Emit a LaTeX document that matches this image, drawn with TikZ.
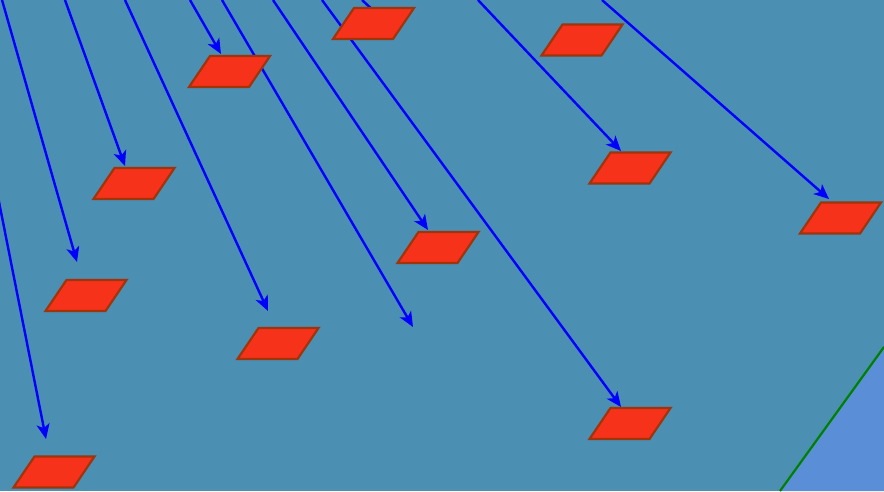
\documentclass[tikz,border=0pt]{standalone}
\usetikzlibrary{arrows.meta}
\definecolor{bgblue}{HTML}{4B8FB3}
\definecolor{lightblue}{HTML}{5A8ED6}
\definecolor{edgegreen}{HTML}{008000}
\definecolor{arrblue}{HTML}{0000FF}
\definecolor{parafill}{HTML}{F6331A}
\definecolor{paraedge}{HTML}{A0340A}
\begin{document}
\begin{tikzpicture}[x=1pt,y=-1pt,
  para/.style={draw=paraedge, fill=parafill, line width=2.2pt, line join=miter},
  arr/.style={draw=arrblue, line width=2.4pt, -{Stealth[length=15pt,width=13pt,inset=4pt]}},
  parapic/.pic={\draw[para] (-19.5,-15.5) -- (40.5,-15.5) -- (19.5,15.5) -- (-40.5,15.5) -- cycle;}]
\clip (0,0) rectangle (884,491);
\fill[bgblue] (0,0) rectangle (884,491);
\coordinate (g1) at (780,491);
\coordinate (g2) at (884,347);
\fill[lightblue] (g1) -- (g2) -- (884,491) -- cycle;
\draw[edgegreen, line width=2.2pt] (g1) -- (g2);
% parallelogram centres
\coordinate (p1) at (229.5,71.5);
\coordinate (p2) at (373.5,23.5);
\coordinate (p3) at (582,40);
\coordinate (p4) at (134,183.5);
\coordinate (p5) at (86,295.5);
\coordinate (p6) at (278,343.5);
\coordinate (p7) at (438,247.5);
\coordinate (p8) at (630,168);
\coordinate (p9) at (840.5,218);
\coordinate (p10) at (630,423.5);
\coordinate (p11) at (54,472);
% arrow sources
\coordinate (s1) at (-41,0);
\coordinate (s2) at (2,0);
\coordinate (s3) at (65,0);
\coordinate (s4) at (125,0);
\coordinate (s5) at (190,0);
\coordinate (s6) at (222,0);
\coordinate (s7) at (273,0);
\coordinate (s8) at (322,0);
\coordinate (s9) at (478,0);
\coordinate (s10) at (602,0);
\coordinate (s11) at (362,0);
% free arrow ends
\coordinate (t1) at (46,439);
\coordinate (t2) at (77,262);
\coordinate (t4) at (268,311);
\coordinate (t6) at (413,327);
% arrows
\draw[arr] (s1) -- (t1);
\draw[arr] (s2) -- (t2);
\draw[arr] (s3) -- ([shift={(-9,-17.5)}]p4);
\draw[arr] (s4) -- (t4);
\draw[arr] (s5) -- ([shift={(-8.5,-17.5)}]p1);
\draw[arr] (s6) -- (t6);
\draw[arr] (s7) -- ([shift={(-10,-17.5)}]p7);
\draw[arr] (s8) -- ([shift={(-9,-16.5)}]p10);
\draw[arr] (s9) -- ([shift={(-9,-17)}]p8);
\draw[arr] (s10) -- ([shift={(-11.5,-19)}]p9);
\draw[arr] (s11) -- ([shift={(14,0)}]p2);
% parallelograms
\foreach \n in {p1,p2,p3,p4,p5,p6,p7,p8,p9,p10,p11}
  \pic at (\n) {parapic};
\end{tikzpicture}
\end{document}
